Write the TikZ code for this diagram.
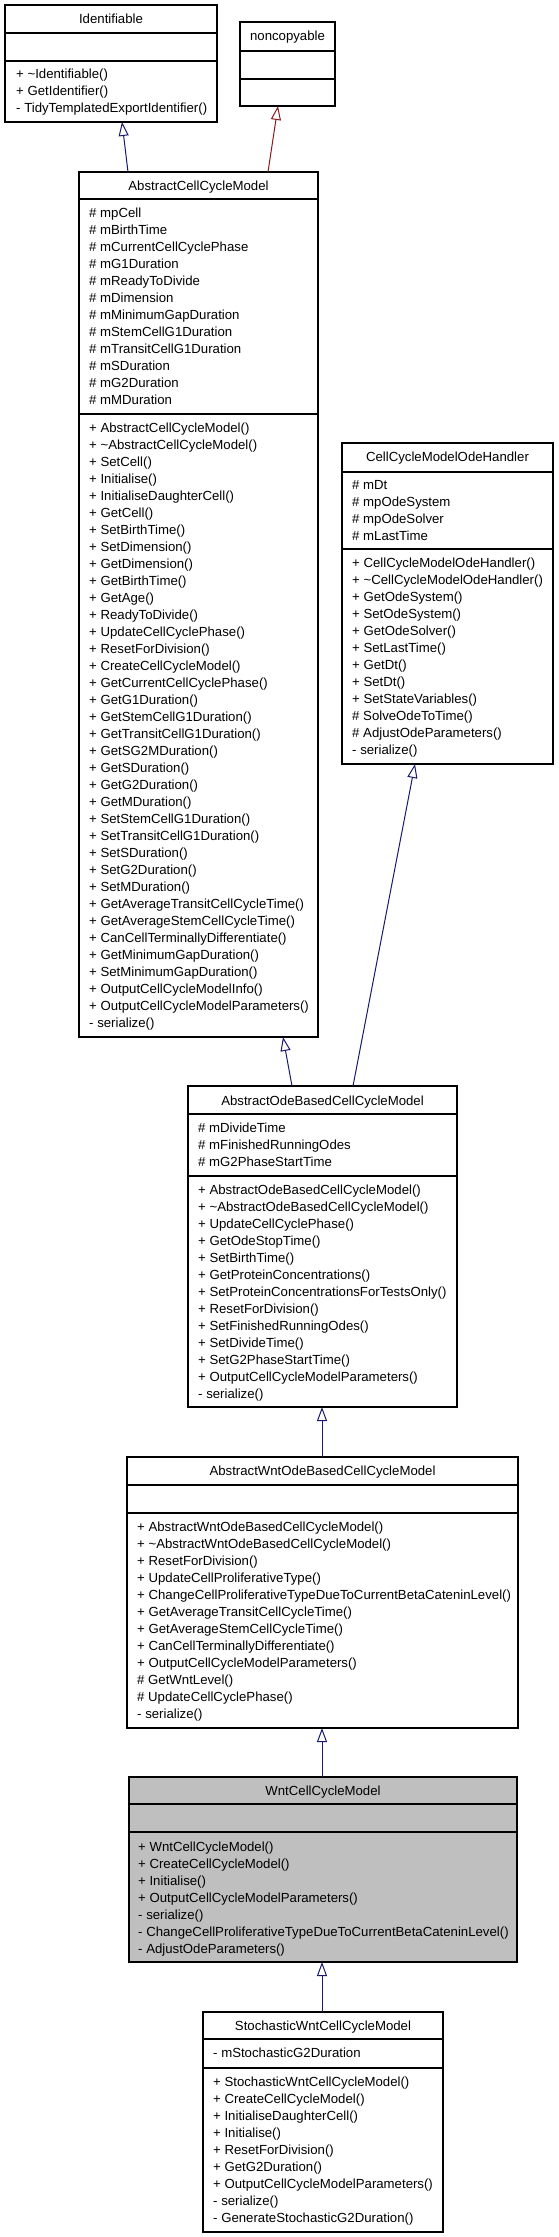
\documentclass[tikz,border=0pt]{standalone}
\usepackage{fontspec}
\setmainfont{Liberation Sans}
\usetikzlibrary{arrows.meta,fit}
\definecolor{inhblue}{RGB}{25,25,112}
\definecolor{inhred}{RGB}{139,26,26}
\definecolor{curgray}{RGB}{191,191,191}
\tikzset{
  box/.style={draw=black, line width=1.1pt, inner sep=0pt, outer sep=0pt},
  sepline/.style={draw=black, line width=1.1pt},
  txt/.style={inner sep=0pt, font=\fontsize{13.2}{17}\selectfont, text=black},
  inh/.style={draw=inhblue, line width=1pt, -{Triangle[open, length=14pt, width=10pt]}},
  inhp/.style={draw=inhred, line width=1pt, -{Triangle[open, length=14pt, width=10pt]}}
}
% name, L, T, R, S1, S2, B, fill
\newcommand\umlcls[8]{%
  \node[box, fill=#8, fit={(#2,#3) (#4,#7)}] (#1) {};
  \draw[sepline] (#2,#5) -- (#4,#5);
  \draw[sepline] (#2,#6) -- (#4,#6);
}
% name, x, first baseline, list
\newcommand\umllines[4]{%
  \foreach \t [count=\i] in {#4} {\node[txt, anchor=base west] (#1-\i) at (#2, #3+17*\i-17) {\t};}
}
\begin{document}
\begin{tikzpicture}[x=1pt,y=-1pt]
\path[fill=white] (0,0) rectangle (559,2237);
\useasboundingbox (0,0) rectangle (559,2237);

% Identifiable
\umlcls{ident}{5}{5}{217}{33}{61}{122}{white}
\node[txt, anchor=base] (ident-t) at (111,23.5) {Identifiable};
\umllines{identm}{16}{79}{{+ \textasciitilde Identifiable()},{+ GetIdentifier()},{- TidyTemplatedExportIdentifier()}}

% noncopyable
\umlcls{nc}{240}{22}{335}{51}{79}{106}{white}
\node[txt, anchor=base] (nc-t) at (287.5,41) {noncopyable};

% AbstractCellCycleModel
\umlcls{acc}{79}{172}{318}{199}{414}{1037}{white}
\node[txt, anchor=base] (acc-t) at (198.5,190.5) {AbstractCellCycleModel};
\umllines{accf}{89}{217.5}{{\# mpCell},{\# mBirthTime},{\# mCurrentCellCyclePhase},{\# mG1Duration},{\# mReadyToDivide},{\# mDimension},{\# mMinimumGapDuration},{\# mStemCellG1Duration},{\# mTransitCellG1Duration},{\# mSDuration},{\# mG2Duration},{\# mMDuration}}
\umllines{accm}{89}{432.5}{{+ AbstractCellCycleModel()},{+ \textasciitilde AbstractCellCycleModel()},{+ SetCell()},{+ Initialise()},{+ InitialiseDaughterCell()},{+ GetCell()},{+ SetBirthTime()},{+ SetDimension()},{+ GetDimension()},{+ GetBirthTime()},{+ GetAge()},{+ ReadyToDivide()},{+ UpdateCellCyclePhase()},{+ ResetForDivision()},{+ CreateCellCycleModel()},{+ GetCurrentCellCyclePhase()},{+ GetG1Duration()},{+ GetStemCellG1Duration()},{+ GetTransitCellG1Duration()},{+ GetSG2MDuration()},{+ GetSDuration()},{+ GetG2Duration()},{+ GetMDuration()},{+ SetStemCellG1Duration()},{+ SetTransitCellG1Duration()},{+ SetSDuration()},{+ SetG2Duration()},{+ SetMDuration()},{+ GetAverageTransitCellCycleTime()},{+ GetAverageStemCellCycleTime()},{+ CanCellTerminallyDifferentiate()},{+ GetMinimumGapDuration()},{+ SetMinimumGapDuration()},{+ OutputCellCycleModelInfo()},{+ OutputCellCycleModelParameters()},{- serialize()}}

% CellCycleModelOdeHandler
\umlcls{ccm}{342}{443}{553}{472}{549}{764}{white}
\node[txt, anchor=base] (ccm-t) at (447.5,461.5) {CellCycleModelOdeHandler};
\umllines{ccmf}{352}{489}{{\# mDt},{\# mpOdeSystem},{\# mpOdeSolver},{\# mLastTime}}
\umllines{ccmm}{352}{567.5}{{+ CellCycleModelOdeHandler()},{+ \textasciitilde CellCycleModelOdeHandler()},{+ GetOdeSystem()},{+ SetOdeSystem()},{+ GetOdeSolver()},{+ SetLastTime()},{+ GetDt()},{+ SetDt()},{+ SetStateVariables()},{\# SolveOdeToTime()},{\# AdjustOdeParameters()},{- serialize()}}

% AbstractOdeBasedCellCycleModel
\umlcls{abode}{188}{1086}{457}{1114}{1176}{1407}{white}
\node[txt, anchor=base] (abode-t) at (322.5,1105) {AbstractOdeBasedCellCycleModel};
\umllines{abodef}{198}{1132}{{\# mDivideTime},{\# mFinishedRunningOdes},{\# mG2PhaseStartTime}}
\umllines{abodem}{198}{1194}{{+ AbstractOdeBasedCellCycleModel()},{+ \textasciitilde AbstractOdeBasedCellCycleModel()},{+ UpdateCellCyclePhase()},{+ GetOdeStopTime()},{+ SetBirthTime()},{+ GetProteinConcentrations()},{+ SetProteinConcentrationsForTestsOnly()},{+ ResetForDivision()},{+ SetFinishedRunningOdes()},{+ SetDivideTime()},{+ SetG2PhaseStartTime()},{+ OutputCellCycleModelParameters()},{- serialize()}}

% AbstractWntOdeBasedCellCycleModel
\umlcls{awode}{127}{1457}{518}{1485}{1513}{1728}{white}
\node[txt, anchor=base] (awode-t) at (322.5,1475) {AbstractWntOdeBasedCellCycleModel};
\umllines{awodem}{137}{1531.5}{{+ AbstractWntOdeBasedCellCycleModel()},{+ \textasciitilde AbstractWntOdeBasedCellCycleModel()},{+ ResetForDivision()},{+ UpdateCellProliferativeType()},{+ ChangeCellProliferativeTypeDueToCurrentBetaCateninLevel()},{+ GetAverageTransitCellCycleTime()},{+ GetAverageStemCellCycleTime()},{+ CanCellTerminallyDifferentiate()},{+ OutputCellCycleModelParameters()},{\# GetWntLevel()},{\# UpdateCellCyclePhase()},{- serialize()}}

% WntCellCycleModel
\umlcls{wnt}{129}{1777}{517}{1804}{1832}{1962}{curgray}
\node[txt, anchor=base] (wnt-t) at (323,1795.5) {WntCellCycleModel};
\umllines{wntm}{138}{1851.5}{{+ WntCellCycleModel()},{+ CreateCellCycleModel()},{+ Initialise()},{+ OutputCellCycleModelParameters()},{- serialize()},{- ChangeCellProliferativeTypeDueToCurrentBetaCateninLevel()},{- AdjustOdeParameters()}}

% StochasticWntCellCycleModel
\umlcls{stoch}{203}{2012}{443}{2039}{2068}{2232}{white}
\node[txt, anchor=base] (stoch-t) at (323,2030) {StochasticWntCellCycleModel};
\umllines{stochf}{213}{2057.5}{{- mStochasticG2Duration}}
\umllines{stochm}{213}{2086.5}{{+ StochasticWntCellCycleModel()},{+ CreateCellCycleModel()},{+ InitialiseDaughterCell()},{+ Initialise()},{+ ResetForDivision()},{+ GetG2Duration()},{+ OutputCellCycleModelParameters()},{- serialize()},{- GenerateStochasticG2Duration()}}

% inheritance connectors
\draw[inh] ([xshift=49pt]acc.north west) -- ([xshift=117pt]ident.south west);
\draw[inhp] ([xshift=189pt]acc.north west) -- ([xshift=38pt]nc.south west);
\draw[inh] ([xshift=104pt]abode.north west) -- ([xshift=204pt]acc.south west);
\draw[inh] ([xshift=165pt]abode.north west) -- ([xshift=73pt]ccm.south west);
\draw[inh] ([xshift=195pt]awode.north west) -- ([xshift=134pt]abode.south west);
\draw[inh] ([xshift=193pt]wnt.north west) -- ([xshift=195pt]awode.south west);
\draw[inh] ([xshift=119pt]stoch.north west) -- ([xshift=193pt]wnt.south west);
\end{tikzpicture}
\end{document}
